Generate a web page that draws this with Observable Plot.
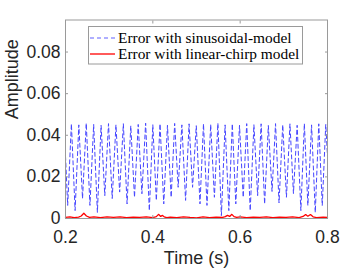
<!DOCTYPE html>
<html>
<head>
<meta charset="utf-8">
<script src="https://cdn.jsdelivr.net/npm/d3@7"></script>
<script src="https://cdn.jsdelivr.net/npm/@observablehq/plot@0.6"></script>
<style>
  html, body { margin: 0; padding: 0; background: #fff; }
  #chart { width: 360px; height: 270px; }
</style>
</head>
<body>
<div id="chart"></div>
<script>
// ---- data ----
const xTicks = [0.2, 0.4, 0.6, 0.8];
const xTickLabels = ["0.2", "0.4", "0.6", "0.8"];
const yTicks = [0, 0.02, 0.04, 0.06, 0.08];
const yTickLabels = ["0", "0.02", "0.04", "0.06", "0.08"];

const seriesNames = ["Error with sinusoidal-model", "Error with linear-chirp model"];

const blueTime = [0.200,0.205,0.2135,0.222,0.2305,0.239,0.2475,0.256,0.2645,0.273,0.2815,0.290,0.2985,0.307,0.3155,0.324,0.3325,0.341,0.3495,0.358,0.3665,0.375,0.3835,0.392,0.400,0.408,0.4165,0.425,0.4335,0.442,0.450,0.458,0.4665,0.475,0.483,0.491,0.4995,0.508,0.516,0.524,0.5325,0.541,0.549,0.557,0.5655,0.574,0.582,0.590,0.5985,0.607,0.615,0.623,0.6315,0.640,0.648,0.656,0.6645,0.673,0.681,0.689,0.6975,0.706,0.714,0.722,0.7305,0.739,0.747,0.755,0.7635,0.772,0.780,0.788,0.796,0.800];
const blueAmp = [0.030,0.0063,0.0455,0.0038,0.0450,0.0096,0.0458,0.0063,0.0452,0.0030,0.0448,0.0110,0.0456,0.0096,0.0450,0.0127,0.0455,0.0070,0.0445,0.0102,0.0452,0.0119,0.0458,0.0038,0.0450,0.0087,0.0455,0.0070,0.0448,0.0102,0.0457,0.0150,0.0450,0.0087,0.0455,0.0150,0.0446,0.0070,0.0455,0.0063,0.0452,0.0102,0.0458,0.0014,0.0450,0.0038,0.0455,0.0070,0.0448,0.0102,0.0456,0.0038,0.0450,0.0110,0.0455,0.0070,0.0447,0.0130,0.0456,0.0075,0.0450,0.0102,0.0455,0.0120,0.0448,0.0038,0.0456,0.0063,0.0450,0.0029,0.0455,0.0063,0.0452,0.030];

const redTime = [0.200,0.210,0.220,0.230,0.236,0.242,0.248,0.255,0.265,0.280,0.295,0.310,0.325,0.340,0.355,0.370,0.385,0.400,0.408,0.413,0.418,0.422,0.426,0.432,0.440,0.455,0.470,0.485,0.500,0.515,0.530,0.545,0.560,0.566,0.571,0.576,0.581,0.586,0.592,0.600,0.615,0.630,0.645,0.660,0.675,0.690,0.705,0.720,0.735,0.744,0.750,0.755,0.761,0.767,0.775,0.790,0.800];
const redAmp = [0.0005,0.0008,0.0004,0.0007,0.0012,0.0025,0.0012,0.0005,0.0008,0.0004,0.0008,0.0005,0.0008,0.0004,0.0007,0.0005,0.0008,0.0004,0.0009,0.0020,0.0010,0.0015,0.0008,0.0004,0.0007,0.0004,0.0008,0.0005,0.0003,0.0008,0.0004,0.0007,0.0005,0.0009,0.0015,0.0010,0.0020,0.0009,0.0005,0.0008,0.0004,0.0007,0.0005,0.0008,0.0004,0.0007,0.0005,0.0008,0.0004,0.0010,0.0019,0.0011,0.0019,0.0008,0.0004,0.0007,0.0005];

const blueColor = "#4646ff";
const legendBlue = "#6060ff";
const redColor = "#ff0000";

const blue = blueTime.map((t, i) => ({t, v: blueAmp[i]}));
const red = redTime.map((t, i) => ({t, v: redAmp[i]}));

const frameColor = "#9a9a9a";
const textColor = "#262626";

const plot = Plot.plot({
  width: 360,
  height: 270,
  marginLeft: 65,
  marginRight: 33,
  marginTop: 19.5,
  marginBottom: 52,
  style: {fontFamily: "'Liberation Sans', Arial, sans-serif", background: "#fff"},
  x: {domain: [0.2, 0.8]},
  y: {domain: [0, 0.0954]},
  marks: [
    Plot.line(blue, {x: "t", y: "v", stroke: blueColor, strokeWidth: 1, strokeDasharray: "4,3"}),
    Plot.line(red, {x: "t", y: "v", stroke: redColor, strokeWidth: 1.3}),
    Plot.frame({stroke: frameColor}),
    Plot.axisX(xTicks, {anchor: "bottom", tickSize: 3, dy: -3, text: null, label: null, stroke: frameColor}),
    Plot.axisX(xTicks, {anchor: "top", tickSize: 3, dy: 3, text: null, label: null, stroke: frameColor}),
    Plot.axisY(yTicks, {anchor: "left", tickSize: 3, dx: 3, text: null, label: null, stroke: frameColor}),
    Plot.axisY(yTicks, {anchor: "right", tickSize: 3, dx: -3, text: null, label: null, stroke: frameColor}),
    Plot.text(xTicks, {x: d => d, text: (d, i) => xTickLabels[i], frameAnchor: "bottom", dy: 18.5, lineAnchor: "middle", fontSize: 17.5, fill: textColor}),
    Plot.text(yTicks, {y: d => d, text: (d, i) => yTickLabels[i], frameAnchor: "left", dx: -5, textAnchor: "end", lineAnchor: "middle", fontSize: 17.5, fill: textColor}),
    Plot.text(["Time (s)"], {frameAnchor: "bottom", dy: 40, lineAnchor: "middle", fontSize: 18, fill: textColor}),
    Plot.text(["Amplitude"], {frameAnchor: "left", dx: -53, rotate: -90, lineAnchor: "middle", fontSize: 18, fill: textColor})
  ]
});

document.getElementById("chart").appendChild(plot);

// legend inside the axes, top-centre
const svg = d3.select(plot);
const lg = svg.append("g")
  .attr("font-family", "'Liberation Serif', 'Times New Roman', serif")
  .attr("font-size", 15.4)
  .attr("text-anchor", "start");
lg.append("rect").attr("x", 88.5).attr("y", 26.5).attr("width", 214).attr("height", 37.5)
  .attr("fill", "#fff").attr("stroke", frameColor);
const rows = [
  {name: seriesNames[0], color: legendBlue, dash: "4,3", w: 1.2, y: 38},
  {name: seriesNames[1], color: redColor, dash: "none", w: 1.3, y: 54}
];
rows.forEach(r => {
  lg.append("path").attr("d", `M90,${r.y}H115`)
    .attr("fill", "none").attr("stroke", r.color).attr("stroke-width", r.w).attr("stroke-dasharray", r.dash);
  lg.append("text").attr("x", 118).attr("y", r.y).attr("dy", "0.35em").attr("fill", "#000").text(r.name);
});
</script>
</body>
</html>
